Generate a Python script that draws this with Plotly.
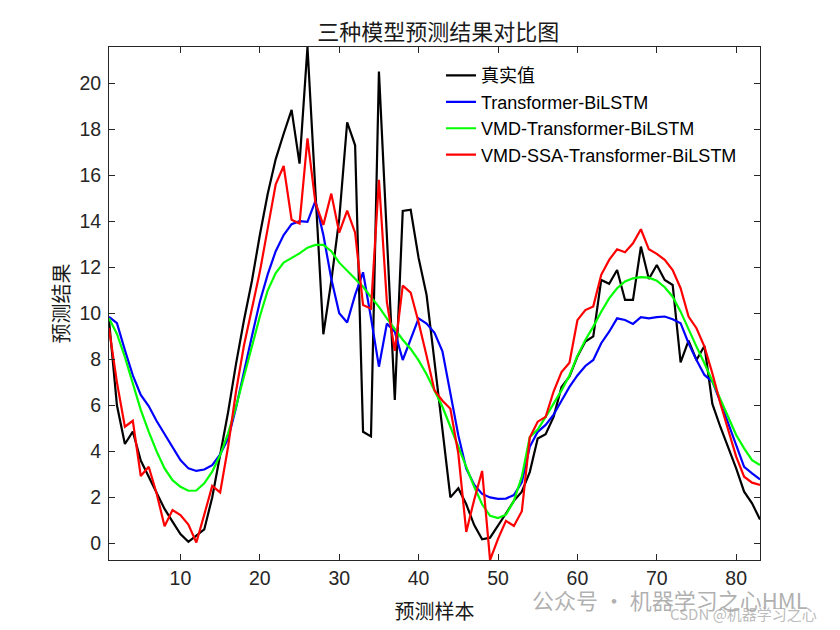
import plotly.graph_objects as go

x_samples = list(range(1, 84))

true_vals = [9.7, 6.0, 4.32, 4.86, 3.6, 2.9, 2.17, 1.5, 0.95, 0.41,
             0.07, 0.32, 0.61, 2.0, 3.9, 5.7, 7.8, 9.7, 11.4, 13.4,
             15.2, 16.7, 17.8, 18.84, 16.5, 21.57, 15.3, 9.09, 11.4, 14.1,
             18.3, 17.3, 4.85, 4.65, 20.5, 13.4, 6.23, 14.45, 14.5, 12.4,
             10.8, 7.9, 5.0, 2.0, 2.4, 1.7, 0.8, 0.18, 0.25, 0.75,
             1.3, 1.85, 2.25, 3.1, 4.56, 4.75, 5.5, 6.8, 7.25, 8.12,
             8.77, 9.0, 11.45, 11.28, 11.88, 10.58, 10.58, 12.9, 11.49, 12.1,
             11.45, 11.23, 7.87, 8.81, 7.97, 8.58, 6.06, 5.07, 4.2, 3.26,
             2.25, 1.74, 1.04]

transformer_bilstm = [9.85, 9.57, 8.4, 7.3, 6.45, 5.97, 5.32, 4.75, 4.16, 3.62,
                      3.26, 3.15, 3.21, 3.4, 3.87, 4.55, 5.9, 7.5, 9.0, 10.5,
                      11.7, 12.7, 13.4, 13.87, 14.0, 13.97, 14.88, 13.4, 11.5, 10.0,
                      9.6, 10.8, 11.78, 9.8, 7.68, 9.55, 9.2, 7.97, 8.9, 9.78,
                      9.55, 9.15, 8.35, 6.5, 4.7, 3.25, 2.55, 2.15, 2.0, 1.94,
                      1.95, 2.1, 2.65, 4.2, 4.85, 5.15, 5.6, 6.2, 6.8, 7.3,
                      7.71, 7.97, 8.7, 9.2, 9.78, 9.71, 9.54, 9.83, 9.78, 9.83,
                      9.86, 9.74, 9.57, 8.7, 7.97, 7.32, 7.03, 6.16, 5.22, 4.35,
                      3.33, 3.04, 2.78]

vmd_transformer_bilstm = [9.78, 9.1, 8.1, 6.96, 5.8, 4.86, 4.0, 3.26, 2.75, 2.46,
                          2.29, 2.3, 2.61, 3.12, 3.84, 4.78, 5.94, 7.25, 8.55, 9.86,
                          11.0, 11.75, 12.2, 12.4, 12.6, 12.85, 12.97, 12.97, 12.7, 12.2,
                          11.85, 11.5, 11.15, 10.7, 10.28, 9.78, 9.3, 8.85, 8.45, 7.95,
                          7.35, 6.65, 5.94, 5.07, 4.2, 3.33, 2.46, 1.7, 1.2, 1.1,
                          1.25, 1.85, 2.9, 4.62, 4.95, 5.5, 6.05, 6.65, 7.3, 8.15,
                          8.84, 9.42, 10.07, 10.65, 11.09, 11.38, 11.52, 11.57, 11.55, 11.42,
                          11.13, 10.72, 10.07, 9.28, 8.55, 7.83, 7.03, 6.23, 5.43, 4.71,
                          4.13, 3.62, 3.41]

vmd_ssa_transformer_bilstm = [9.35, 7.0, 5.07, 5.33, 2.93, 3.33, 2.17, 0.75, 1.45, 1.23,
                              0.82, 0.04, 1.25, 2.5, 2.22, 4.2, 6.6, 8.6, 10.2, 11.8,
                              13.7, 15.6, 16.4, 14.06, 13.9, 17.6, 14.8, 13.84, 15.2, 13.5,
                              14.46, 13.5, 10.36, 10.2, 15.8, 10.5, 8.37, 11.2, 10.9, 9.6,
                              8.15, 6.65, 6.2, 5.85, 3.9, 0.5, 1.9, 3.15, -0.72, 0.2,
                              0.98, 0.76, 1.4, 4.6, 5.29, 5.5, 6.6, 7.45, 7.85, 9.7,
                              10.14, 10.3, 11.67, 12.32, 12.78, 12.65, 13.04, 13.65, 12.78, 12.58,
                              12.32, 11.88, 11.09, 9.86, 9.35, 8.55, 7.39, 6.09, 4.93, 3.77,
                              2.9, 2.64, 2.54]

series_names = ["真实值", "Transformer-BiLSTM", "VMD-Transformer-BiLSTM", "VMD-SSA-Transformer-BiLSTM"]
series_values = [true_vals, transformer_bilstm, vmd_transformer_bilstm, vmd_ssa_transformer_bilstm]
series_colors = ["#000000", "#0000FF", "#00FF00", "#FF0000"]

x_tick_vals = [10, 20, 30, 40, 50, 60, 70, 80]
y_tick_vals = [0, 2, 4, 6, 8, 10, 12, 14, 16, 18, 20]

fig = go.Figure()
for name, vals, col in zip(series_names, series_values, series_colors):
    fig.add_trace(go.Scatter(x=x_samples, y=vals, mode="lines", name=name,
                             line=dict(color=col, width=2.2)))

all_vals = [v for s in series_values for v in s]
ymin, ymax = min(all_vals), max(all_vals)

tick_font = dict(family="Liberation Sans, Arial, sans-serif", size=19.5, color="#262626")
cjk_font = "Noto Sans CJK SC, sans-serif"

# the page places the figure 8px in from the top-left corner (body margin);
# plot area sits at page x 109..760, y 47..560 (651 x 513)
PLOT_L, PLOT_B, PLOT_W, PLOT_H = 109, 560, 651, 513


def px_to_paper(px, py):
    return (px - PLOT_L) / PLOT_W, (PLOT_B - py) / PLOT_H


fig.update_layout(
    width=832, height=622,
    margin=dict(l=101, r=80, t=39, b=70, autoexpand=False),
    paper_bgcolor="white", plot_bgcolor="white",
    title=dict(text="三种模型预测结果对比图", x=0.517, xanchor="center",
               y=1 - 24 / 622, yanchor="middle",
               font=dict(family=cjk_font, size=22, color="#1a1a1a")),
    legend=dict(x=0.51, y=0.98, xanchor="left", yanchor="top",
                bgcolor="rgba(255,255,255,0)", borderwidth=0,
                font=dict(family="Liberation Sans, Noto Sans CJK SC, sans-serif", size=18, color="#000000"),
                tracegroupgap=0),
    showlegend=True,
)

fig.update_xaxes(range=[1, 83], tickvals=x_tick_vals, ticks="inside", ticklen=6,
                 tickcolor="#262626", showline=True, linecolor="#262626", linewidth=1,
                 mirror="ticks", showgrid=False, zeroline=False, tickfont=tick_font,
                 ticklabelstandoff=1, automargin=False,
                 title=dict(text="预测样本", font=dict(family=cjk_font, size=20, color="#1a1a1a"), standoff=16))
fig.update_yaxes(range=[ymin, ymax], tickvals=y_tick_vals, ticks="inside", ticklen=6,
                 tickcolor="#262626", showline=True, linecolor="#262626", linewidth=1,
                 mirror="ticks", showgrid=False, zeroline=False, tickfont=tick_font,
                 ticklabelstandoff=3, automargin=False,
                 title=dict(text="预测结果", font=dict(family=cjk_font, size=20, color="#1a1a1a"), standoff=4))

wx, wy = px_to_paper(530, 599)
fig.add_annotation(text="公众号 · 机器学习之心HML", xref="paper", yref="paper",
                   x=wx, y=wy, xanchor="left", yanchor="middle",
                   showarrow=False, font=dict(family=cjk_font, size=22, color="rgba(150,150,150,0.75)"))
cx, cy = px_to_paper(668, 614)
fig.add_annotation(text="CSDN @机器学习之心", xref="paper", yref="paper",
                   x=cx, y=cy, xanchor="left", yanchor="middle",
                   showarrow=False, font=dict(family=cjk_font, size=15, color="rgba(170,170,170,0.8)"))

fig.write_html("out.html")
